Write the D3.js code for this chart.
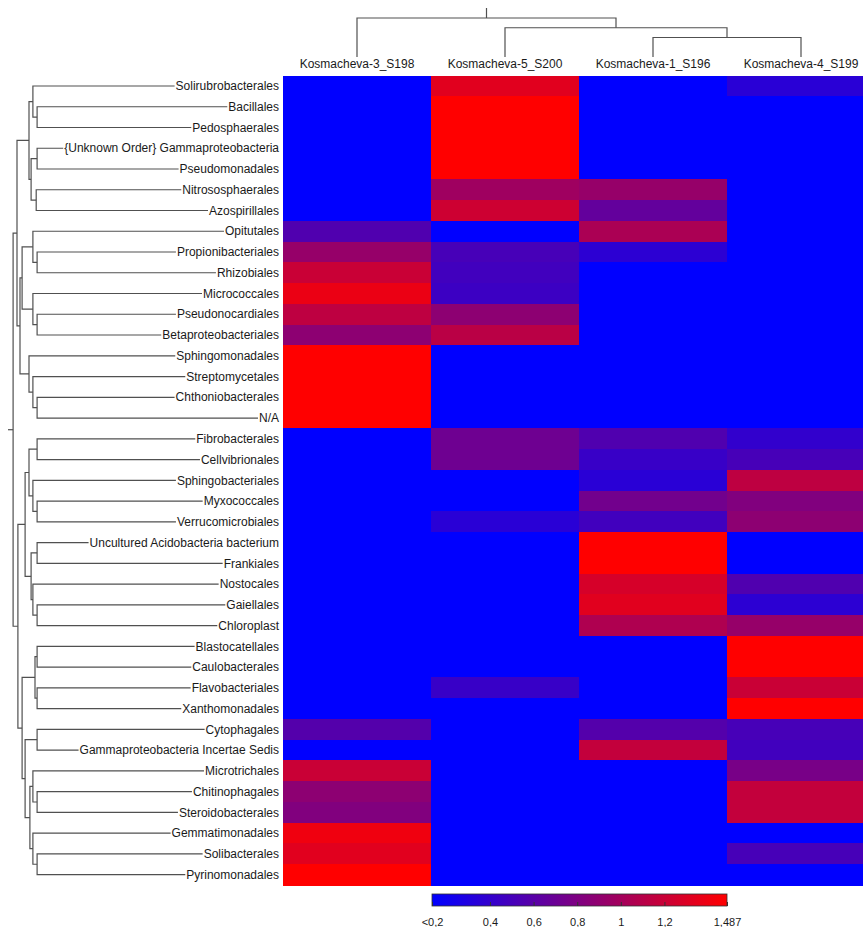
<!DOCTYPE html>
<html>
<head>
<meta charset="utf-8">
<script src="https://cdn.jsdelivr.net/npm/d3@7/dist/d3.min.js"></script>
<style>
  body { margin: 0; background: #fff; }
  svg text { font-family: "Liberation Sans", Arial, sans-serif; fill: #1a1a1a; }
</style>
</head>
<body>
<svg id="chart" width="863" height="927"></svg>
<script>
// Samples (columns) in clustered order
const samples = ["Kosmacheva-3_S198", "Kosmacheva-5_S200", "Kosmacheva-1_S196", "Kosmacheva-4_S199"];

// Orders (rows) in clustered order
const taxa = [
  "Solirubrobacterales", "Bacillales", "Pedosphaerales", "{Unknown Order} Gammaproteobacteria",
  "Pseudomonadales", "Nitrososphaerales", "Azospirillales", "Opitutales", "Propionibacteriales",
  "Rhizobiales", "Micrococcales", "Pseudonocardiales", "Betaproteobacteriales", "Sphingomonadales",
  "Streptomycetales", "Chthoniobacterales", "N/A", "Fibrobacterales", "Cellvibrionales",
  "Sphingobacteriales", "Myxococcales", "Verrucomicrobiales", "Uncultured Acidobacteria bacterium",
  "Frankiales", "Nostocales", "Gaiellales", "Chloroplast", "Blastocatellales", "Caulobacterales",
  "Flavobacteriales", "Xanthomonadales", "Cytophagales", "Gammaproteobacteria Incertae Sedis",
  "Microtrichales", "Chitinophagales", "Steroidobacterales", "Gemmatimonadales", "Solibacterales",
  "Pyrinomonadales"
];

// Relative abundance per sample, one value per order (values below 0.2 shown as "<0,2")
const s198 = [0.1, 0.1, 0.1, 0.1, 0.1, 0.1, 0.1, 0.56, 0.93, 1.2, 1.38, 1.14, 0.88, 1.487, 1.487, 1.487, 1.487,
  0.1, 0.1, 0.1, 0.1, 0.1, 0.1, 0.1, 0.1, 0.1, 0.1, 0.1, 0.1, 0.1, 0.1, 0.58, 0.1, 1.2, 0.88, 0.82, 1.41, 1.33, 1.487];
const s200 = [1.33, 1.487, 1.487, 1.487, 1.487, 0.98, 1.22, 0.1, 0.51, 0.48, 0.45, 0.88, 1.12, 0.1, 0.1, 0.1, 0.1,
  0.72, 0.72, 0.1, 0.1, 0.35, 0.1, 0.1, 0.1, 0.1, 0.1, 0.1, 0.1, 0.43, 0.1, 0.1, 0.1, 0.1, 0.1, 0.1, 0.1, 0.1, 0.1];
const s196 = [0.1, 0.1, 0.1, 0.1, 0.1, 0.93, 0.66, 1.04, 0.37, 0.1, 0.1, 0.1, 0.1, 0.1, 0.1, 0.1, 0.1,
  0.56, 0.43, 0.35, 0.74, 0.48, 1.487, 1.487, 1.27, 1.33, 1.06, 0.1, 0.1, 0.1, 0.1, 0.58, 1.17, 0.1, 0.1, 0.1, 0.1, 0.1, 0.1];
const s199 = [0.35, 0.1, 0.1, 0.1, 0.1, 0.1, 0.1, 0.1, 0.1, 0.1, 0.1, 0.1, 0.1, 0.1, 0.1, 0.1, 0.1,
  0.40, 0.51, 1.14, 0.82, 0.88, 0.1, 0.1, 0.56, 0.37, 0.93, 1.487, 1.487, 1.2, 1.487, 0.51, 0.48, 0.77, 1.17, 1.17, 0.1, 0.51, 0.1];

// Colour key
const legendMin = 0.134;
const legendMax = 1.487;
const legendTicks = [0.134, 0.4, 0.6, 0.8, 1, 1.2, 1.487];
const legendTickLabels = ["<0,2", "0,4", "0,6", "0,8", "1", "1,2", "1,487"];

// Dendrograms: [height, left, right]; leaves are row / column indices
const rowTree = [0.83,
  [0.70,
    [0.30,
      [0.17, 0, [0.03, 1, 2]],
      [0.23, [0.03, 3, 4], [0.06, 5, 6]]],
    [0.60,
      [0.53,
        [0.17, 7, [0.03, 8, 9]],
        [0.17, 10, [0.03, 11, 12]]],
      [0.30, 13, [0.17, 14, [0.03, 15, 16]]]]],
  [0.67,
    [0.43,
      [0.30, [0.03, 17, 18], [0.17, 19, [0.03, 20, 21]]],
      [0.23, [0.03, 22, 23], [0.17, 24, [0.03, 25, 26]]]],
    [0.53,
      [0.10, [0.03, 27, 28], [0.03, 29, 30]],
      [0.43,
        [0.03, 31, 32],
        [0.27,
          [0.17, 33, [0.03, 34, 35]],
          [0.17, 36, [0.03, 37, 38]]]]]]];
const colTree = [1.0, 0, [0.75, 1, [0.5, 2, 3]]];

const matrix = [s198, s200, s196, s199];

const svg = d3.select("#chart");

const x = d3.scaleBand().domain(samples).range([283, 875]).padding(0);
const y = d3.scaleBand().domain(taxa).range([75.6, 885]).padding(0);
const color = d3.scaleLinear().domain([legendMin, legendMax]).range(["#0000ff", "#ff0000"])
  .interpolate(d3.interpolateRgb).clamp(true);

// Heatmap cells
const cells = [];
samples.forEach((s, ci) => taxa.forEach((t, ri) => cells.push({ s, t, v: matrix[ci][ri] })));
svg.append("g").attr("shape-rendering", "crispEdges")
  .selectAll("rect").data(cells).join("rect")
  .attr("x", d => Math.round(x(d.s)))
  .attr("y", d => Math.round(y(d.t)))
  .attr("width", d => Math.round(x(d.s) + x.bandwidth()) - Math.round(x(d.s)) + 1)
  .attr("height", d => Math.round(y(d.t) + y.bandwidth()) - Math.round(y(d.t)) + 1)
  .attr("fill", d => color(d.v));

// Row labels
const labelRight = 279;
const labels = svg.append("g").selectAll("text").data(taxa).join("text")
  .attr("x", labelRight)
  .attr("y", d => y(d) + y.bandwidth() / 2)
  .attr("dy", "0.35em")
  .attr("text-anchor", "end")
  .attr("font-size", 12)
  .text(d => d);
const labelStart = {};
labels.each(function (d) { labelStart[d] = labelRight - this.getComputedTextLength() - 1; });

// Column labels
svg.append("g").selectAll("text").data(samples).join("text")
  .attr("x", d => x(d) + x.bandwidth() / 2)
  .attr("y", 68)
  .attr("text-anchor", "middle")
  .attr("font-size", 12)
  .text(d => d);

function toNode(a) {
  return Array.isArray(a) ? { h: a[0], children: [toNode(a[1]), toNode(a[2])] } : { leaf: a, h: 0 };
}

const lineStyle = g => g.attr("stroke", "#505050").attr("stroke-width", 1.2).attr("fill", "none");

// Row dendrogram (left)
const hx = d3.scaleLinear().domain([0, 1]).range([38, 8]);
const rRoot = d3.hierarchy(toNode(rowTree));
rRoot.eachAfter(n => {
  if (n.children) {
    n.py = (n.children[0].py + n.children[1].py) / 2;
    n.px = hx(n.data.h);
  } else {
    const name = taxa[n.data.leaf];
    n.py = y(name) + y.bandwidth() / 2;
    n.px = labelStart[name];
  }
});
const rg = svg.append("g").call(lineStyle);
rRoot.each(n => {
  if (!n.children) return;
  const [a, b] = n.children;
  rg.append("path").attr("d", `M${a.px},${a.py}H${n.px}V${b.py}H${b.px}`);
});
rg.append("path").attr("d", `M${rRoot.px},${rRoot.py}H${hx(1)}`);

// Column dendrogram (top)
const hy = d3.scaleLinear().domain([0, 1]).range([57, 18]);
const cRoot = d3.hierarchy(toNode(colTree));
cRoot.eachAfter(n => {
  if (n.children) {
    n.px = (n.children[0].px + n.children[1].px) / 2;
    n.py = hy(n.data.h);
  } else {
    n.px = x(samples[n.data.leaf]) + x.bandwidth() / 2;
    n.py = hy(0);
  }
});
const cg = svg.append("g").call(lineStyle);
cRoot.each(n => {
  if (!n.children) return;
  const [a, b] = n.children;
  cg.append("path").attr("d", `M${a.px},${a.py}V${n.py}H${b.px}V${b.py}`);
});
cg.append("path").attr("d", `M${cRoot.px},${cRoot.py}V8`);

// Colour key
const lx = d3.scaleLinear().domain([legendMin, legendMax]).range([432, 727]);
const defs = svg.append("defs");
const grad = defs.append("linearGradient").attr("id", "keyGrad");
d3.range(0, 1.0001, 0.1).forEach(t => {
  grad.append("stop").attr("offset", t).attr("stop-color", color(legendMin + t * (legendMax - legendMin)));
});
svg.append("rect")
  .attr("x", lx(legendMin)).attr("y", 894)
  .attr("width", lx(legendMax) - lx(legendMin)).attr("height", 12)
  .attr("fill", "url(#keyGrad)")
  .attr("stroke", "#333").attr("stroke-width", 0.8);

const keyAxis = d3.axisBottom(lx)
  .tickValues(legendTicks)
  .tickFormat((d, i) => legendTickLabels[i])
  .tickSizeInner(-4).tickSizeOuter(0).tickPadding(12);
const ka = svg.append("g").attr("transform", "translate(0,906)").call(keyAxis);
ka.select(".domain").remove();
ka.selectAll("line").attr("stroke", "#333");
ka.selectAll("text").attr("font-size", 11).attr("fill", "#1a1a1a")
  .style("font-family", "'Liberation Sans', Arial, sans-serif");
</script>
</body>
</html>
